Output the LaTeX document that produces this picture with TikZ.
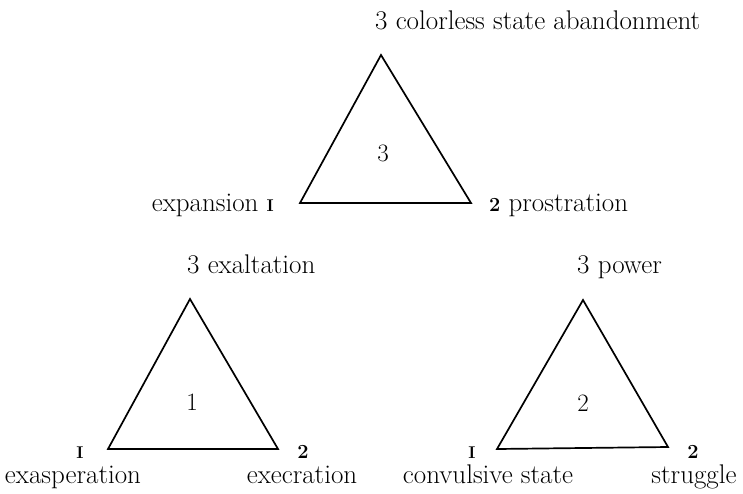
\documentclass[tikz,border=0pt]{standalone}
\usepackage{fontspec}
\usetikzlibrary{positioning}

\newcommand{\romone}{{\fontsize{17}{20}\selectfont\bfseries I}}

\begin{document}
\begin{tikzpicture}[
    x=1pt, y=-1pt,
    font=\fontsize{27}{31}\selectfont,
    % Estilos
    triside/.style={
        draw=black,
        line width=1.7pt,
        line join=miter
    },
    cornerlabel/.style={
        inner sep=0pt
    },
    cornernum/.style={
        inner sep=0pt,
        anchor=base,
        font=\fontsize{20}{24}\selectfont\bfseries
    },
    centrenum/.style={
        inner sep=0pt,
        font=\fontsize{25}{28}\selectfont
    }
]
    \useasboundingbox (0,0) rectangle (743,493);

    % ==========================================
    % 1. TRIANGLE 3 (arriba)
    % ==========================================
    \coordinate (topone)   at (300,203);
    \coordinate (toptwo)   at (471,203);
    \coordinate (topthree) at (381,55);
    \draw[triside] (topone) -- (toptwo) -- (topthree) -- cycle;
    \node[centrenum] (topnum) at (383,153) {3};

    \node[cornerlabel, anchor=base west] (topthreelbl) at (375,29) {3 colorless state abandonment};
    \node[cornerlabel, anchor=base east] (toponelbl) at (274,211) {expansion \romone};
    \node[cornerlabel, anchor=base west] (toptwolbl) at (489,211) {{\fontsize{20}{24}\selectfont\bfseries 2} prostration};

    % ==========================================
    % 2. TRIANGLE 1 (abajo izquierda)
    % ==========================================
    \coordinate (leftone)   at (108,449);
    \coordinate (lefttwo)   at (278,449);
    \coordinate (leftthree) at (190,299);
    \draw[triside] (leftone) -- (lefttwo) -- (leftthree) -- cycle;
    \node[centrenum] (leftnum) at (192,402) {1};

    \node[cornerlabel, anchor=base west] (leftthreelbl) at (187,273) {3 exaltation};
    \node[cornernum] (leftonenum) at (80,458) {\romone};
    \node[cornerlabel, anchor=base] (leftonelbl) at (73,483) {exasperation};
    \node[cornernum] (lefttwonum) at (303,458) {2};
    \node[cornerlabel, anchor=base] (lefttwolbl) at (302,483) {execration};

    % ==========================================
    % 3. TRIANGLE 2 (abajo derecha)
    % ==========================================
    \coordinate (rightone)   at (497,449);
    \coordinate (righttwo)   at (668,447);
    \coordinate (rightthree) at (583,300);
    \draw[triside] (rightone) -- (righttwo) -- (rightthree) -- cycle;
    \node[centrenum] (rightnum) at (583,403) {2};

    \node[cornerlabel, anchor=base west] (rightthreelbl) at (577,273) {3 power};
    \node[cornernum] (rightonenum) at (472,458) {\romone};
    \node[cornerlabel, anchor=base] (rightonelbl) at (488,483) {convulsive state};
    \node[cornernum] (righttwonum) at (693,458) {2};
    \node[cornerlabel, anchor=base] (righttwolbl) at (694,483) {struggle};

\end{tikzpicture}
\end{document}
